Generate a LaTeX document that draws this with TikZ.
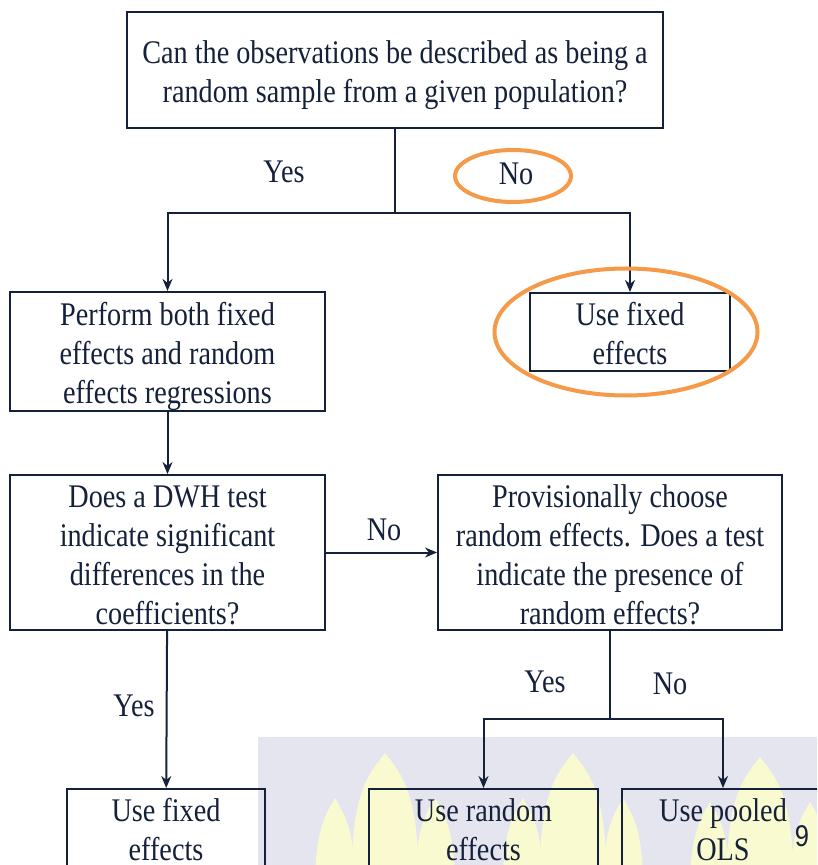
\documentclass[tikz,border=0pt]{standalone}
\usepackage{fontspec}
\setmainfont{Liberation Serif}[FakeStretch=0.855]
\setsansfont{Liberation Sans}[FakeStretch=0.85]
\usetikzlibrary{arrows.meta}

\definecolor{ink}{HTML}{15203A}
\definecolor{mark}{HTML}{F49A48}
\definecolor{wmgrey}{HTML}{E4E5EF}
\definecolor{wmyellow}{HTML}{FAFAD0}

% taller first line, pushes the text a little down in its box
\newcommand{\upstrut}[1][17pt]{\rule{0pt}{#1}}

\tikzset{
	box/.style={draw=ink, line width=1pt, text=ink, align=center, inner sep=0pt,
		font=\fontsize{16.5}{19.5}\selectfont},
	lab/.style={text=ink, inner sep=0pt, font=\fontsize{16.5}{19.5}\selectfont},
	flow/.style={draw=ink, line width=1pt, -{Stealth[length=6pt,width=5pt]}},
	link/.style={draw=ink, line width=1pt},
	hl/.style={draw=mark, line width=2pt},
	flame/.style={fill=wmyellow},
}

\begin{document}
\begin{tikzpicture}[x=0.5pt,y=-0.5pt]%[show background grid]

	\useasboundingbox (0,0) rectangle (817,865);
	\clip (0,0) rectangle (817,865);
	\fill[white] (0,0) rectangle (817,865);

	% watermark
	\fill[wmgrey] (258,737) rectangle (817,865);
	\foreach \fx/\fy in {385/753, 573/753, 760/757} {
		\begin{scope}[shift={(\fx,\fy)}]
			\fill[flame] (0,0) .. controls (15,20) and (38,40) .. (32,150)
				-- (-32,150) .. controls (-38,40) and (-15,20) .. (0,0);
			\fill[flame] (-50,45) .. controls (-42,60) and (-28,75) .. (-30,150)
				-- (-70,150) .. controls (-72,75) and (-58,60) .. (-50,45);
			\fill[flame] (50,45) .. controls (58,60) and (72,75) .. (70,150)
				-- (30,150) .. controls (28,75) and (42,60) .. (50,45);
		\end{scope}
	}

	\node[box, minimum width=268pt, minimum height=58pt] (ask) at (395,70)
		{\upstrut Can the observations be described as being a\\random sample from a given population?};
	\node[box, minimum width=157.5pt, minimum height=58.5pt] (both) at (167.5,351.5)
		{\upstrut Perform both fixed\\effects and random\\effects regressions};
	\node[box, minimum width=100pt, minimum height=39pt] (fixedA) at (630,332)
		{\upstrut[13.5pt]Use fixed\\effects};
	\node[box, minimum width=157.5pt, minimum height=77.5pt] (dwh) at (167.5,552.5)
		{\upstrut[13.5pt]Does a DWH test\\indicate significant\\differences in the\\coefficients?};
	\node[box, minimum width=172pt, minimum height=77.5pt] (prov) at (610,552.5)
		{\upstrut[13.5pt]Provisionally choose\\random effects. Does a test\\indicate the presence of\\random effects?};
	\node[box, minimum width=99pt, minimum height=39pt] (fixedB) at (166,828)
		{\upstrut[13.5pt]Use fixed\\effects};
	\node[box, minimum width=114.5pt, minimum height=39pt] (randomB) at (483.5,828)
		{\upstrut[13.5pt]Use random\\effects};
	\node[box, minimum width=101pt, minimum height=39pt] (pooled) at (723,828)
		{\upstrut[13.5pt]Use pooled\\OLS};

	\node[lab] (yesA) at (284,172) {Yes};
	\node[lab] (noA) at (516,174) {No};
	\node[lab] (noB) at (384,530) {No};
	\node[lab] (yesB) at (545,682) {Yes};
	\node[lab] (noC) at (670,684) {No};
	\node[lab] (yesC) at (134,706) {Yes};
	\node[text=ink, inner sep=0pt, font=\sffamily\fontsize{15}{18}\selectfont] (page) at (802,836) {9};

	\coordinate (split1) at (395,213);
	\coordinate (split2) at (610,719);

	\draw[link] (ask.south) -- (split1);
	\draw[flow] (split1) -| (both.north);
	\draw[flow] (split1) -| (fixedA.north);
	\draw[flow] (both) -- (dwh);
	\draw[flow] (dwh) -- (prov);
	\draw[flow] (dwh) -- (fixedB);
	\draw[link] (prov.south) -- (split2);
	\draw[flow] (split2) -| (randomB.north);
	\draw[flow] (split2) -| (pooled.north);

	\draw[hl] ([shift={(-3,2)}]noA.center) ellipse [x radius=29pt, y radius=13pt];
	\draw[hl] ([shift={(-4,0)}]fixedA.center) ellipse [x radius=65.75pt, y radius=31.75pt];

\end{tikzpicture}
\end{document}
